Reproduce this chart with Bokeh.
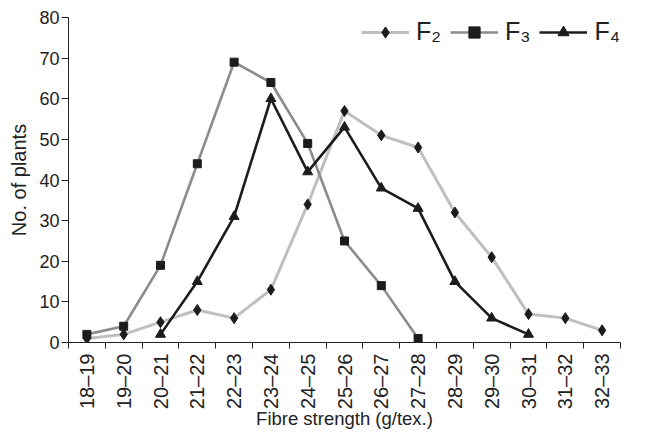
import math
from bokeh.plotting import figure
from bokeh.models import FixedTicker, Legend, LegendItem, ColumnDataSource
from bokeh.embed import file_html
from bokeh.resources import INLINE

categories = ["18–19", "19–20", "20–21", "21–22", "22–23", "23–24", "24–25", "25–26",
              "26–27", "27–28", "28–29", "29–30", "30–31", "31–32", "32–33"]
f2 = [1, 2, 5, 8, 6, 13, 34, 57, 51, 48, 32, 21, 7, 6, 3]
f3 = [2, 4, 19, 44, 69, 64, 49, 25, 14, 1]
f3_start = "18–19"
f4 = [2, 15, 31, 60, 42, 53, 38, 33, 15, 6, 2]
f4_start = "20–21"
yticks = [0, 10, 20, 30, 40, 50, 60, 70, 80]

FONT = "Liberation Sans"
TXT = "#222222"

def xs_for(start, vals):
    s = categories.index(start)
    return list(range(s, s + len(vals)))

src2 = ColumnDataSource(dict(x=list(range(len(categories))), y=f2))
src3 = ColumnDataSource(dict(x=xs_for(f3_start, f3), y=f3))
src4 = ColumnDataSource(dict(x=xs_for(f4_start, f4), y=f4))

p = figure(width=633, height=432,
           x_range=(-0.5, len(categories) - 0.5), y_range=(0, 80),
           output_backend="svg", toolbar_location=None,
           min_border_left=68, min_border_right=13, min_border_top=17, min_border_bottom=90)
p.background_fill_color = "white"
p.outline_line_color = None
p.xgrid.grid_line_color = None
p.ygrid.grid_line_color = None

l2 = p.line("x", "y", source=src2, line_color="#bfbfbf", line_width=3)
m2 = p.scatter("x", "y", source=src2, marker="diamond", size=11, fill_color="#1c1c1c", line_color="#1c1c1c")
l3 = p.line("x", "y", source=src3, line_color="#8c8c8c", line_width=2.6)
m3 = p.scatter("x", "y", source=src3, marker="square", size=8, fill_color="#1c1c1c", line_color="#1c1c1c")
l4 = p.line("x", "y", source=src4, line_color="#1c1c1c", line_width=2.6)
m4 = p.scatter("x", "y", source=src4, marker="triangle", size=10, fill_color="#1c1c1c", line_color="#1c1c1c")

# x axis
xa = p.xaxis[0]
xa.ticker = FixedTicker(ticks=list(range(len(categories))),
                        minor_ticks=[i - 0.5 for i in range(len(categories) + 1)])
xa.major_label_overrides = {i: c for i, c in enumerate(categories)}
xa.major_label_orientation = math.pi / 2
xa.major_tick_out = 0
xa.major_tick_in = 0
xa.minor_tick_out = 6
xa.minor_tick_in = 0
xa.minor_tick_line_color = "#222222"
xa.major_label_standoff = 5
xa.major_label_text_font_size = "20px"
xa.axis_label = "Fibre strength (g/tex.)"
xa.axis_label_standoff = -4
xa.axis_label_text_font_size = "18.5px"

# y axis
ya = p.yaxis[0]
ya.ticker = FixedTicker(ticks=yticks)
ya.major_tick_out = 7
ya.major_tick_in = 0
ya.minor_tick_line_color = None
ya.major_label_standoff = 2
ya.major_label_text_font_size = "18px"
ya.axis_label = "No. of plants"
ya.axis_label_standoff = 6
ya.axis_label_text_font_size = "20px"

for ax in (xa, ya):
    ax.axis_line_color = "#222222"
    ax.major_tick_line_color = "#222222"
    ax.major_label_text_font = FONT
    ax.major_label_text_color = TXT
    ax.axis_label_text_font = FONT
    ax.axis_label_text_font_style = "normal"
    ax.axis_label_text_color = TXT

legend = Legend(items=[LegendItem(label="F₂", renderers=[l2, m2]),
                       LegendItem(label="F₃", renderers=[l3, m3]),
                       LegendItem(label="F₄", renderers=[l4, m4])],
                orientation="horizontal", location=(293, 296),
                glyph_width=48, glyph_height=28, label_height=28,
                label_standoff=7, spacing=9, padding=0, margin=0,
                border_line_color=None, background_fill_alpha=0,
                label_text_font=FONT, label_text_font_size="25px", label_text_color=TXT)
p.add_layout(legend, "center")

open("out.html", "w").write(file_html(p, INLINE))
